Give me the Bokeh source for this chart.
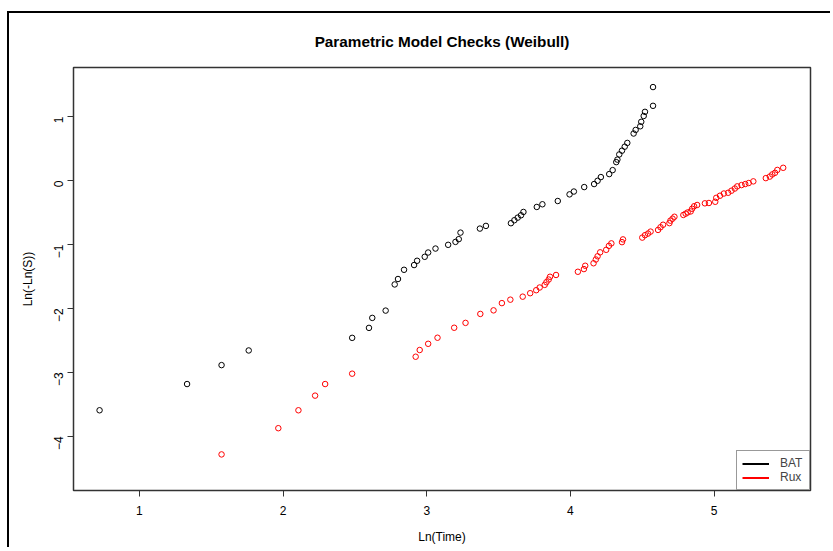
import math
from bokeh.plotting import figure
from bokeh.models import FixedTicker, Range1d, Legend, LegendItem
from bokeh.embed import file_html
from bokeh.resources import INLINE

# BAT series: Ln(Time), Ln(-Ln(S))
bat_x = [0.723, 1.332, 1.572, 1.761, 2.481, 2.598, 2.621, 2.714, 2.777, 2.800,
         2.842, 2.912, 2.933, 2.986, 3.010, 3.061, 3.149, 3.200, 3.223, 3.235,
         3.370, 3.412, 3.586, 3.610, 3.633, 3.656, 3.673, 3.766, 3.805, 3.912,
         3.994, 4.024, 4.096, 4.165, 4.189, 4.212, 4.270, 4.294, 4.319, 4.327,
         4.340, 4.359, 4.378, 4.396, 4.440, 4.454, 4.486, 4.493, 4.510, 4.519,
         4.575, 4.575]
bat_y = [-3.592, -3.182, -2.886, -2.657, -2.460, -2.304, -2.148, -2.034, -1.625, -1.540,
         -1.396, -1.322, -1.255, -1.193, -1.126, -1.064, -1.006, -0.960, -0.917, -0.815,
         -0.752, -0.710, -0.668, -0.621, -0.581, -0.544, -0.492, -0.414, -0.372, -0.321,
         -0.217, -0.173, -0.103, -0.056, -0.005, 0.053, 0.100, 0.162, 0.287, 0.326,
         0.407, 0.466, 0.528, 0.587, 0.734, 0.790, 0.847, 0.917, 1.008, 1.073,
         1.167, 1.460]

# Rux series
rux_x = [1.572, 1.967, 2.107, 2.223, 2.293, 2.481, 2.923, 2.951, 3.010, 3.075,
         3.191, 3.270, 3.373, 3.465, 3.523, 3.582, 3.668, 3.720, 3.762, 3.786,
         3.821, 3.833, 3.849, 3.858, 3.900, 4.052, 4.094, 4.103, 4.161, 4.177,
         4.189, 4.207, 4.249, 4.268, 4.285, 4.359, 4.366, 4.500, 4.519, 4.540,
         4.558, 4.610, 4.627, 4.645, 4.689, 4.696, 4.711, 4.724, 4.786, 4.802,
         4.816, 4.837, 4.847, 4.861, 4.882, 4.936, 4.964, 5.008, 5.015, 5.041,
         5.068, 5.098, 5.121, 5.144, 5.161, 5.191, 5.217, 5.241, 5.273, 5.360,
         5.388, 5.405, 5.424, 5.440, 5.481]
rux_y = [-4.282, -3.872, -3.592, -3.363, -3.182, -3.020, -2.755, -2.650, -2.553, -2.458,
         -2.302, -2.226, -2.086, -2.030, -1.917, -1.863, -1.816, -1.762, -1.715, -1.673,
         -1.632, -1.590, -1.548, -1.505, -1.477, -1.427, -1.385, -1.333, -1.294, -1.235,
         -1.185, -1.123, -1.084, -1.022, -0.983, -0.964, -0.921, -0.893, -0.855, -0.830,
         -0.799, -0.773, -0.731, -0.692, -0.667, -0.628, -0.597, -0.567, -0.539, -0.519,
         -0.500, -0.484, -0.442, -0.403, -0.383, -0.357, -0.352, -0.333, -0.271, -0.238,
         -0.204, -0.192, -0.160, -0.126, -0.092, -0.072, -0.056, -0.040, -0.014, 0.037,
         0.061, 0.095, 0.120, 0.165, 0.198]

x_ticks = [1, 2, 3, 4, 5]
y_ticks = [-4, -3, -2, -1, 0, 1]
series_names = ["BAT", "Rux"]
series_colors = ["black", "red"]

FONT = "Liberation Sans"

p = figure(width=823, height=536, output_backend="svg", toolbar_location=None,
           x_range=Range1d(0.5415, 5.671), y_range=Range1d(-4.846, 1.766),
           min_border_left=64, min_border_right=22, min_border_top=53, min_border_bottom=59,
           title="Parametric Model Checks (Weibull)",
           styles={"border-left": "2px solid black", "border-top": "2px solid black",
                   "margin-left": "7px", "margin-top": "11px"})

p.background_fill_color = "white"
p.border_fill_color = "white"
p.outline_line_color = "#333333"
p.outline_line_width = 1.5
p.grid.visible = False

p.title.align = "center"
p.title.text_font = FONT
p.title.text_font_size = "15.3px"
p.title.text_font_style = "bold"
p.title.text_color = "black"
p.title.standoff = 35

for ax in (p.xaxis[0], p.yaxis[0]):
    ax.axis_line_color = None
    ax.major_tick_line_color = "#333333"
    ax.major_tick_out = 6
    ax.major_tick_in = 0
    ax.minor_tick_line_color = None
    ax.major_label_text_font = FONT
    ax.major_label_text_font_size = "12px"
    ax.major_label_text_color = "black"
    ax.axis_label_text_font = FONT
    ax.axis_label_text_font_size = "12px"
    ax.axis_label_text_font_style = "normal"
    ax.axis_label_text_color = "black"

p.xaxis.ticker = FixedTicker(ticks=x_ticks)
p.yaxis.ticker = FixedTicker(ticks=y_ticks)
p.xaxis.axis_label = "Ln(Time)"
p.yaxis.axis_label = "Ln(-Ln(S))"
p.xaxis.major_label_standoff = 9
p.xaxis.axis_label_standoff = 12
p.yaxis.major_label_orientation = math.pi / 2
p.yaxis.major_label_standoff = 9
p.yaxis.axis_label_standoff = 12

p.scatter(bat_x, bat_y, marker="circle", size=5.5, fill_color=None,
          line_color=series_colors[0], line_width=1)
p.scatter(rux_x, rux_y, marker="circle", size=5.5, fill_color=None,
          line_color=series_colors[1], line_width=1)

# legend proxies (no visible data)
nan = float("nan")
l1 = p.line([nan], [nan], line_color=series_colors[0], line_width=2)
l2 = p.line([nan], [nan], line_color=series_colors[1], line_width=2)
legend = Legend(items=[LegendItem(label=series_names[0], renderers=[l1]),
                       LegendItem(label=series_names[1], renderers=[l2])],
                location="bottom_right")
legend.margin = 0
legend.padding = 5
legend.spacing = 0
legend.glyph_width = 27
legend.glyph_height = 13
legend.label_height = 13
legend.label_width = 24
legend.label_standoff = 11
legend.label_text_font = FONT
legend.label_text_font_size = "12px"
legend.border_line_color = "#333333"
legend.border_line_width = 1
legend.background_fill_color = "white"
legend.background_fill_alpha = 1
p.add_layout(legend)

open("out.html", "w").write(file_html(p, INLINE))
